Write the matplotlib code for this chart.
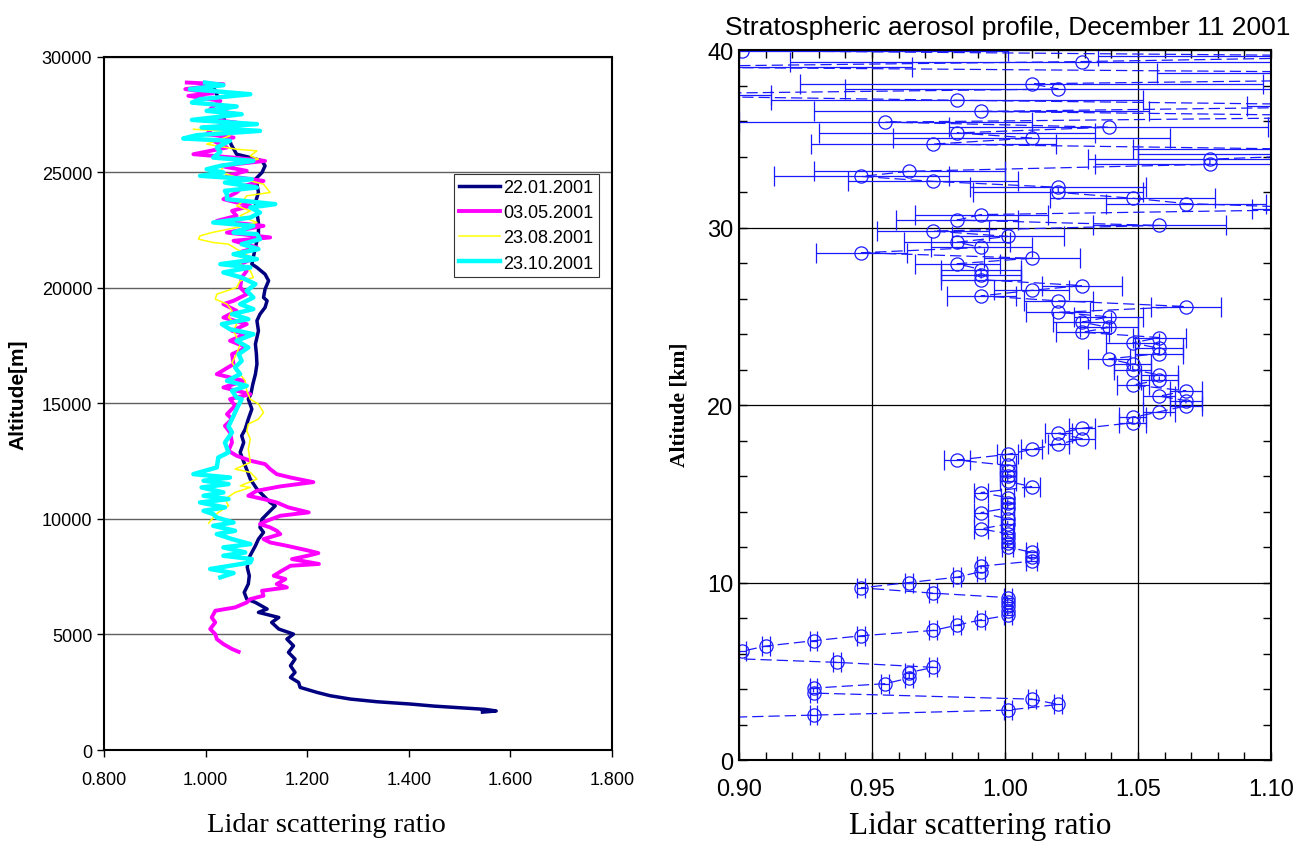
import numpy as np
import matplotlib.pyplot as plt
from matplotlib.ticker import MultipleLocator, FormatStrFormatter

# Perfiles lidar (altitud en m, razon de dispersion)
perfil_22_01 = [
    (1640, 1.545), (1690, 1.572), (1760, 1.550), (1830, 1.500), (1900, 1.450), (1990, 1.403),
    (2090, 1.337), (2205, 1.285), (2350, 1.245), (2495, 1.219), (2710, 1.186), (2925, 1.183),
    (3140, 1.167), (3360, 1.176), (3645, 1.167), (3935, 1.176), (4225, 1.163), (4510, 1.173),
    (4800, 1.160), (5015, 1.173), (5235, 1.144), (5520, 1.130), (5735, 1.144), (5955, 1.104),
    (6100, 1.121), (6385, 1.098), (6530, 1.081), (6820, 1.076), (7180, 1.084), (7540, 1.086),
    (7900, 1.082), (8260, 1.084), (8550, 1.091), (8835, 1.098), (9125, 1.104), (9415, 1.114),
    (9630, 1.107), (9990, 1.111), (10280, 1.124), (10565, 1.137), (10710, 1.127), (11000, 1.114),
    (11290, 1.101), (11720, 1.088), (12300, 1.078), (12875, 1.068), (13305, 1.075), (13595, 1.071),
    (13885, 1.078), (14315, 1.084), (14750, 1.091), (15180, 1.084), (15395, 1.089), (15830, 1.093),
    (16260, 1.098), (16695, 1.101), (17125, 1.100), (17560, 1.098), (17845, 1.101), (18135, 1.104),
    (18570, 1.101), (18855, 1.107), (19145, 1.117), (19435, 1.121), (19575, 1.114), (19940, 1.117),
    (20300, 1.124), (20585, 1.117), (20875, 1.101), (21020, 1.091), (21740, 1.098), (22315, 1.104),
    (22820, 1.104), (23250, 1.101), (23685, 1.098), (24120, 1.104), (24480, 1.101), (24695, 1.098),
    (24985, 1.111), (25270, 1.117), (25490, 1.111), (25630, 1.088), (25775, 1.061), (26200, 1.050),
    (27000, 1.040), (27800, 1.030), (28500, 1.020), (28800, 1.010),
]

perfil_03_05 = [
    (4250, 1.065), (4370, 1.052), (4585, 1.035), (4800, 1.022), (5015, 1.019), (5235, 1.009),
    (5520, 1.019), (5735, 1.012), (6025, 1.019), (6170, 1.058), (6385, 1.081), (6530, 1.088),
    (6675, 1.114), (6890, 1.111), (7035, 1.160), (7180, 1.140), (7395, 1.157), (7540, 1.134),
    (7755, 1.150), (7970, 1.167), (8050, 1.223), (8260, 1.170), (8400, 1.200), (8520, 1.222),
    (8640, 1.200), (8835, 1.160), (8980, 1.127), (9125, 1.114), (9340, 1.147), (9485, 1.140),
    (9630, 1.127), (9775, 1.107), (9920, 1.121), (10135, 1.147), (10280, 1.203), (10495, 1.163),
    (10710, 1.140), (10855, 1.114), (11000, 1.084), (11215, 1.101), (11405, 1.147), (11590, 1.212),
    (11790, 1.167), (11935, 1.140), (12155, 1.127), (12370, 1.117), (12515, 1.088), (12730, 1.061),
    (12945, 1.045), (13305, 1.052), (13740, 1.048), (14025, 1.038), (14315, 1.052), (14530, 1.042),
    (14895, 1.058), (15180, 1.048), (15395, 1.088), (15685, 1.035), (15970, 1.075), (16260, 1.022),
    (16695, 1.055), (17125, 1.052), (17415, 1.081), (17705, 1.048), (17990, 1.078), (18135, 1.052),
    (18425, 1.081), (18710, 1.035), (19000, 1.061), (19290, 1.035), (19435, 1.055), (19720, 1.081),
    (20010, 1.068), (20440, 1.071), (20730, 1.081), (21020, 1.068), (21235, 1.091), (21525, 1.065),
    (21740, 1.101), (22030, 1.055), (22175, 1.127), (22385, 1.042), (22675, 1.114), (22890, 1.022),
    (23110, 1.061), (23325, 1.052), (23540, 1.088), (23830, 1.035), (24120, 1.061), (24405, 1.075),
    (24620, 1.114), (24840, 1.042), (25055, 1.081), (25270, 1.029), (25485, 1.117), (25630, 1.055),
    (25775, 0.976), (26065, 1.042), (26355, 1.015), (26495, 1.055), (26640, 1.002), (26930, 1.015),
    (27145, 1.061), (27290, 1.002), (27505, 1.061), (27725, 1.009), (28085, 1.029), (28300, 0.966),
    (28415, 1.015), (28590, 0.960), (28805, 1.035), (28875, 0.963),
]

perfil_23_08 = [
    (9815, 1.006), (10060, 1.015), (10280, 1.025), (10565, 1.045), (10855, 1.038), (11145, 1.058),
    (11360, 1.088), (11430, 1.068), (11720, 1.101), (12010, 1.088), (12155, 1.058), (12440, 1.088),
    (13020, 1.084), (13450, 1.088), (13810, 1.081), (14100, 1.084), (14315, 1.104), (14605, 1.114),
    (14965, 1.104), (15180, 1.088), (15540, 1.081), (15970, 1.078), (16260, 1.068), (16550, 1.058),
    (16765, 1.052), (17125, 1.061), (17560, 1.068), (17845, 1.061), (18135, 1.055), (18425, 1.061),
    (18710, 1.045), (19000, 1.052), (19290, 1.042), (19505, 1.019), (19720, 1.022), (20010, 1.061),
    (20300, 1.068), (20440, 1.094), (20730, 1.088), (21020, 1.068), (21450, 1.081), (21670, 1.061),
    (21885, 1.045), (21955, 1.015), (22100, 0.986), (22245, 0.989), (22385, 1.012), (22605, 1.061),
    (22820, 1.101), (23110, 1.068), (23325, 1.088), (23540, 1.061), (23685, 1.071), (23975, 1.081),
    (24120, 1.127), (24480, 1.114), (24695, 1.075), (24985, 1.029), (25270, 1.035), (25560, 1.104),
    (25705, 1.088), (25920, 1.101), (25990, 1.061), (26210, 1.002), (26570, 1.048), (26785, 1.029),
    (26855, 0.976),
]

perfil_23_10 = [
    (7470, 1.029), (7655, 1.055), (7830, 1.009), (8115, 1.088), (8260, 1.091), (8405, 1.035),
    (8550, 1.078), (8765, 1.035), (8910, 1.088), (9125, 1.052), (9340, 1.022), (9485, 1.058),
    (9700, 1.015), (9845, 1.055), (10060, 1.022), (10205, 1.015), (10350, 0.996), (10495, 1.038),
    (10710, 0.989), (10855, 1.045), (11000, 0.996), (11145, 1.035), (11360, 0.992), (11505, 1.045),
    (11650, 0.996), (11790, 1.048), (11935, 0.976), (12225, 1.022), (12655, 1.025), (12875, 1.045),
    (13300, 1.038), (13740, 1.052), (14000, 1.045), (14460, 1.055), (14800, 1.062), (15180, 1.071),
    (15250, 1.061), (15540, 1.052), (15755, 1.081), (15970, 1.042), (16260, 1.068), (16550, 1.058),
    (16835, 1.071), (17125, 1.065), (17415, 1.084), (17705, 1.061), (17990, 1.094), (18205, 1.048),
    (18425, 1.032), (18640, 1.084), (18855, 1.052), (19075, 1.094), (19290, 1.068), (19575, 1.094),
    (19865, 1.081), (20155, 1.098), (20440, 1.071), (20660, 1.035), (20875, 1.088), (21020, 1.029),
    (21235, 1.101), (21450, 1.055), (21670, 1.104), (21885, 1.071), (22100, 1.107), (22315, 1.101),
    (22385, 1.055), (22675, 1.094), (22820, 1.015), (23035, 1.088), (23250, 1.107), (23470, 1.088),
    (23615, 1.137), (23830, 1.042), (24045, 1.042), (24190, 1.038), (24335, 1.101), (24550, 1.038),
    (24695, 1.091), (24840, 0.989), (24985, 1.035), (25125, 1.002), (25270, 1.029), (25485, 1.094),
    (25630, 1.015), (25875, 1.029), (26065, 1.022), (26355, 1.048), (26455, 0.956), (26600, 0.983),
    (26785, 1.107), (26930, 0.992), (27075, 1.101), (27260, 0.973), (27505, 1.071), (27650, 1.002),
    (27840, 1.061), (28010, 0.973), (28155, 0.989), (28370, 1.088), (28590, 0.969), (28760, 1.035),
    (28875, 0.999),
]

fechas = ['22.01.2001', '03.05.2001', '23.08.2001', '23.10.2001']
perfiles = [perfil_22_01, perfil_03_05, perfil_23_08, perfil_23_10]
colores = ['#000080', '#ff00ff', '#ffff00', '#00ffff']
grosores = [2.5, 2.8, 1.1, 3.2]

# Perfil del 11 de diciembre 2001 (altitud km, razon, error)
perfil_dic = [
    (2.23, 0.850, 0.0015), (2.53, 0.928, 0.0015), (2.81, 1.001, 0.0015), (3.13, 1.020, 0.0015),
    (3.43, 1.010, 0.0015), (3.77, 0.928, 0.0015), (4.05, 0.928, 0.0015), (4.30, 0.955, 0.0015),
    (4.62, 0.964, 0.0015), (4.93, 0.964, 0.0015), (5.22, 0.973, 0.0015), (5.50, 0.937, 0.0015),
    (5.81, 0.880, 0.0015), (6.12, 0.901, 0.0015), (6.42, 0.910, 0.0015), (6.72, 0.928, 0.0015),
    (7.00, 0.946, 0.0015), (7.30, 0.973, 0.0015), (7.60, 0.982, 0.0015), (7.90, 0.991, 0.0015),
    (8.15, 1.001, 0.0015), (8.40, 1.001, 0.0015), (8.65, 1.001, 0.0015), (8.90, 1.001, 0.0015),
    (9.15, 1.001, 0.0015), (9.40, 0.973, 0.0015), (9.70, 0.946, 0.0015), (10.00, 0.964, 0.0015),
    (10.30, 0.982, 0.0015), (10.62, 0.991, 0.0015), (10.92, 0.991, 0.0015), (11.20, 1.010, 0.002),
    (11.45, 1.010, 0.002), (11.70, 1.010, 0.002), (12.00, 1.001, 0.002), (12.25, 1.001, 0.002),
    (12.50, 1.001, 0.002), (12.75, 1.001, 0.002), (13.02, 0.991, 0.0025), (13.30, 1.001, 0.0025),
    (13.58, 1.001, 0.0025), (13.94, 0.991, 0.0025), (14.20, 1.001, 0.0025), (14.50, 1.001, 0.0025),
    (14.78, 1.001, 0.0025), (15.07, 0.991, 0.0025), (15.40, 1.010, 0.003), (15.70, 1.001, 0.003),
    (16.00, 1.001, 0.003), (16.30, 1.001, 0.003), (16.60, 1.001, 0.003), (16.90, 0.982, 0.005),
    (17.22, 1.001, 0.004), (17.50, 1.010, 0.004), (17.80, 1.020, 0.004), (18.10, 1.029, 0.005),
    (18.40, 1.020, 0.005), (18.69, 1.029, 0.005), (19.00, 1.048, 0.005), (19.30, 1.048, 0.005),
    (19.62, 1.058, 0.006), (19.95, 1.068, 0.006), (20.25, 1.068, 0.006), (20.50, 1.058, 0.006),
    (20.80, 1.068, 0.006), (21.13, 1.048, 0.006), (21.40, 1.058, 0.007), (21.69, 1.058, 0.007),
    (22.00, 1.048, 0.007), (22.30, 1.048, 0.007), (22.60, 1.039, 0.008), (22.90, 1.058, 0.009),
    (23.19, 1.058, 0.009), (23.50, 1.048, 0.010), (23.80, 1.058, 0.010), (24.10, 1.029, 0.010),
    (24.37, 1.039, 0.011), (24.67, 1.029, 0.011), (24.97, 1.039, 0.013), (25.22, 1.020, 0.012),
    (25.55, 1.068, 0.013), (25.87, 1.020, 0.013), (26.15, 0.991, 0.013), (26.46, 1.010, 0.014),
    (26.73, 1.029, 0.015), (27.06, 0.991, 0.015), (27.35, 0.991, 0.015), (27.63, 0.991, 0.015),
    (27.96, 0.982, 0.016), (28.27, 1.010, 0.018), (28.58, 0.946, 0.017), (28.88, 0.991, 0.019),
    (29.17, 0.982, 0.020), (29.50, 1.001, 0.021), (29.80, 0.973, 0.021), (30.12, 1.058, 0.025),
    (30.42, 0.982, 0.023), (30.73, 0.991, 0.025), (31.04, 1.130, 0.037), (31.35, 1.068, 0.030),
    (31.65, 1.048, 0.031), (31.98, 1.020, 0.032), (32.27, 1.020, 0.033), (32.60, 0.973, 0.032),
    (32.88, 0.946, 0.033), (33.17, 0.964, 0.036), (33.56, 1.077, 0.043), (33.85, 1.077, 0.046),
    (34.12, 1.125, 0.075), (34.42, 1.110, 0.062), (34.70, 0.973, 0.046), (35.04, 1.010, 0.052),
    (35.33, 0.982, 0.052), (35.65, 1.039, 0.060), (35.94, 0.955, 0.055), (36.25, 1.160, 0.060),
    (36.54, 0.991, 0.063), (36.86, 1.160, 0.069), (37.17, 0.982, 0.070), (37.48, 0.840, 0.072),
    (37.80, 1.020, 0.080), (38.10, 1.010, 0.087), (38.42, 1.190, 0.090), (38.73, 1.150, 0.093),
    (39.05, 0.860, 0.105), (39.35, 1.029, 0.110), (39.65, 1.150, 0.115), (39.96, 0.901, 0.100),
]

sans = ['Liberation Sans', 'DejaVu Sans']
serif = ['Liberation Serif', 'DejaVu Serif']

fig = plt.figure(figsize=(13.05, 8.45), dpi=100)

# ---- panel izquierdo ----
ax1 = fig.add_axes([0.0797, 0.1112, 0.3893, 0.8207])
for perfil, fecha, c, lw in zip(perfiles, fechas, colores, grosores):
    alt, ratio = zip(*perfil)
    ax1.plot(ratio, alt, color=c, lw=lw, label=fecha, solid_joinstyle='round')

ax1.set_xlim(0.8, 1.8)
ax1.set_ylim(0, 30000)
ax1.xaxis.set_major_locator(MultipleLocator(0.2))
ax1.xaxis.set_major_formatter(FormatStrFormatter('%.3f'))
ax1.yaxis.set_major_locator(MultipleLocator(5000))
ax1.yaxis.grid(True, color='#606060', lw=1.0)
ax1.set_axisbelow(True)
ax1.tick_params(direction='out', length=5, width=1, labelsize=13, top=False, right=False)
for lab in ax1.get_xticklabels() + ax1.get_yticklabels():
    lab.set_family(sans)
ax1.tick_params(axis='x', pad=10)
for s in ax1.spines.values():
    s.set_linewidth(1.5)

leg = ax1.legend(loc='upper right', bbox_to_anchor=(0.974, 0.831), frameon=True, fancybox=False,
                 edgecolor='black', borderaxespad=0, handlelength=2.3, handletextpad=0.15,
                 labelspacing=0.45, borderpad=0.3, prop={'family': sans, 'size': 13})
leg.get_frame().set_linewidth(0.8)

fig.text(0.0138, 0.5325, 'Altitude[m]', rotation=90, ha='center', va='center',
         fontsize=15, fontweight='bold', family=sans)
fig.text(0.2498, 0.0225, 'Lidar scattering ratio', ha='center', va='center',
         fontsize=20.5, family=serif)

# ---- panel derecho ----
ax2 = fig.add_axes([0.5663, 0.0994, 0.4077, 0.8402])
alt_d, ratio_d, err_d = zip(*perfil_dic)
ax2.errorbar(ratio_d, alt_d, xerr=err_d, fmt='o--', color='#1a1aff', lw=0.9, dashes=(9, 4),
             ms=9.5, mfc='none', mec='#1a1aff', mew=0.9,
             ecolor='#1a1aff', elinewidth=0.9, capsize=7, capthick=0.9)

ax2.set_xlim(0.9, 1.1)
ax2.set_ylim(0, 40)
ax2.xaxis.set_major_locator(MultipleLocator(0.05))
ax2.xaxis.set_minor_locator(MultipleLocator(0.01))
ax2.xaxis.set_major_formatter(FormatStrFormatter('%.2f'))
ax2.yaxis.set_major_locator(MultipleLocator(10))
ax2.yaxis.set_minor_locator(MultipleLocator(2))
ax2.grid(True, which='major', color='black', lw=0.9)
ax2.set_axisbelow(True)
ax2.tick_params(which='both', direction='in', top=True, right=True, length=6, width=1,
                labelsize=17)
ax2.tick_params(axis='x', pad=13)
ax2.tick_params(axis='y', pad=4)
for lab in ax2.get_xticklabels() + ax2.get_yticklabels():
    lab.set_family(sans)
for s in ax2.spines.values():
    s.set_linewidth(1.5)

fig.text(0.772, 0.967, 'Stratospheric aerosol profile, December 11 2001', ha='center', va='center',
         fontsize=19, family=sans)
fig.text(0.521, 0.5207, 'Altitude [km]', rotation=90, ha='center', va='center',
         fontsize=15.5, fontweight='bold', family=serif)
fig.text(0.751, 0.0225, 'Lidar scattering ratio', ha='center', va='center',
         fontsize=22.5, family=serif)

fig.savefig('out.png', dpi=100)
